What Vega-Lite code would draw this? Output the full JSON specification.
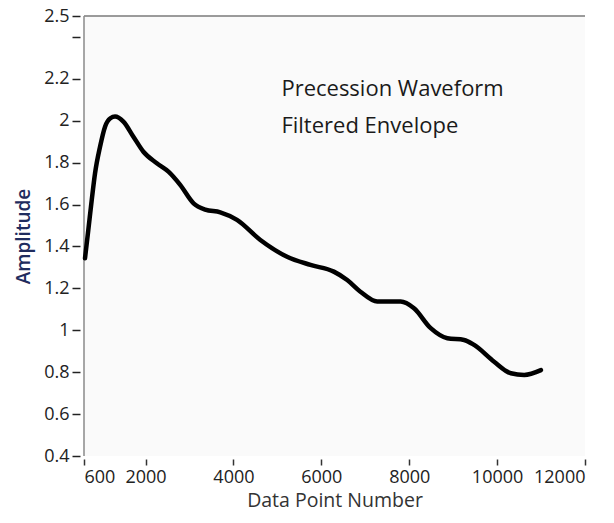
{
  "$schema": "https://vega.github.io/schema/vega-lite/v6.json",
  "autosize": "none",
  "width": 501,
  "height": 440,
  "padding": {"left": 84, "top": 16, "right": 29, "bottom": 67},
  "background": "white",
  "config": {
    "view": {"fill": "#fafafa", "stroke": null},
    "font": "Open Sans"
  },
  "datasets": {
    "curve": [
      {"point": 623, "amp": 1.344},
      {"point": 698, "amp": 1.479},
      {"point": 776, "amp": 1.622},
      {"point": 851, "amp": 1.749},
      {"point": 965, "amp": 1.876},
      {"point": 1079, "amp": 1.972},
      {"point": 1200, "amp": 2.012},
      {"point": 1307, "amp": 2.02},
      {"point": 1496, "amp": 1.996},
      {"point": 1724, "amp": 1.924},
      {"point": 1952, "amp": 1.852},
      {"point": 2257, "amp": 1.797},
      {"point": 2522, "amp": 1.757},
      {"point": 2789, "amp": 1.694},
      {"point": 3093, "amp": 1.606},
      {"point": 3359, "amp": 1.576},
      {"point": 3701, "amp": 1.563},
      {"point": 4081, "amp": 1.527},
      {"point": 4613, "amp": 1.431},
      {"point": 5221, "amp": 1.351},
      {"point": 5753, "amp": 1.312},
      {"point": 6284, "amp": 1.28},
      {"point": 6589, "amp": 1.24},
      {"point": 6890, "amp": 1.184},
      {"point": 7273, "amp": 1.137},
      {"point": 7805, "amp": 1.137},
      {"point": 8109, "amp": 1.105},
      {"point": 8489, "amp": 1.01},
      {"point": 8869, "amp": 0.962},
      {"point": 9248, "amp": 0.954},
      {"point": 9477, "amp": 0.93},
      {"point": 9932, "amp": 0.85},
      {"point": 10313, "amp": 0.795},
      {"point": 10617, "amp": 0.787},
      {"point": 10997, "amp": 0.81}
    ],
    "notes": [
      {"point": 5092, "amp": 2.118, "label": "Precession Waveform"},
      {"point": 5092, "amp": 1.943, "label": "Filtered Envelope"}
    ],
    "frame": [{"top": 2.5, "left": 600}]
  },
  "layer": [
    {
      "data": {"name": "frame"},
      "mark": {"type": "rule", "color": "#7a7a7a", "strokeWidth": 1.5},
      "encoding": {"y": {"field": "top", "type": "quantitative"}}
    },
    {
      "data": {"name": "frame"},
      "mark": {"type": "rule", "color": "#8a8a8a", "strokeWidth": 1.5},
      "encoding": {"x": {"field": "left", "type": "quantitative"}}
    },
    {
      "data": {"name": "curve"},
      "mark": {"type": "line", "color": "#000000", "strokeWidth": 4.5, "interpolate": "monotone", "strokeCap": "round"},
      "encoding": {
        "x": {
          "field": "point", "type": "quantitative",
          "scale": {"domain": [600, 12000], "nice": false, "zero": false},
          "axis": {
            "title": "Data Point Number",
            "values": [600, 2000, 4000, 6000, 8000, 10000, 12000],
            "tickCount": 20,
            "format": "d",
            "labelOverlap": false,
            "domain": false,
            "grid": false,
            "offset": 3,
            "tickSize": 6,
            "tickColor": "#333333",
            "tickWidth": 1.5,
            "labelPadding": 3,
            "labelFontSize": 18,
            "labelColor": "#222222",
            "labelFont": "Open Sans",
            "titleFont": "Open Sans",
            "titleFontSize": 19.5,
            "titleFontWeight": "normal",
            "titleColor": "#333333",
            "titlePadding": 5
          }
        },
        "y": {
          "field": "amp", "type": "quantitative",
          "scale": {"domain": [0.4, 2.5], "nice": false, "zero": false},
          "axis": {
            "title": "Amplitude",
            "values": [0.4, 0.6, 0.8, 1, 1.2, 1.4, 1.6, 1.8, 2, 2.2, 2.4, 2.5],
            "tickCount": 30,
            "labelExpr": "datum.value == 2.4 ? '' : format(datum.value, '~g')",
            "labelOverlap": false,
            "domain": false,
            "grid": false,
            "offset": 4,
            "tickSize": 8,
            "tickColor": "#222222",
            "tickWidth": 1.5,
            "labelPadding": 3,
            "labelFontSize": 18,
            "labelColor": "#222222",
            "labelFont": "Open Sans",
            "titleFont": "Open Sans",
            "titleFontSize": 19,
            "titleFontWeight": 600,
            "titleColor": "#1f2c5e",
            "titlePadding": 10
          }
        }
      }
    },
    {
      "data": {"name": "notes"},
      "mark": {"type": "text", "align": "left", "baseline": "alphabetic", "fontSize": 22, "font": "Open Sans", "color": "#1a1a1a"},
      "encoding": {
        "x": {"field": "point", "type": "quantitative"},
        "y": {"field": "amp", "type": "quantitative"},
        "text": {"field": "label"}
      }
    }
  ]
}
